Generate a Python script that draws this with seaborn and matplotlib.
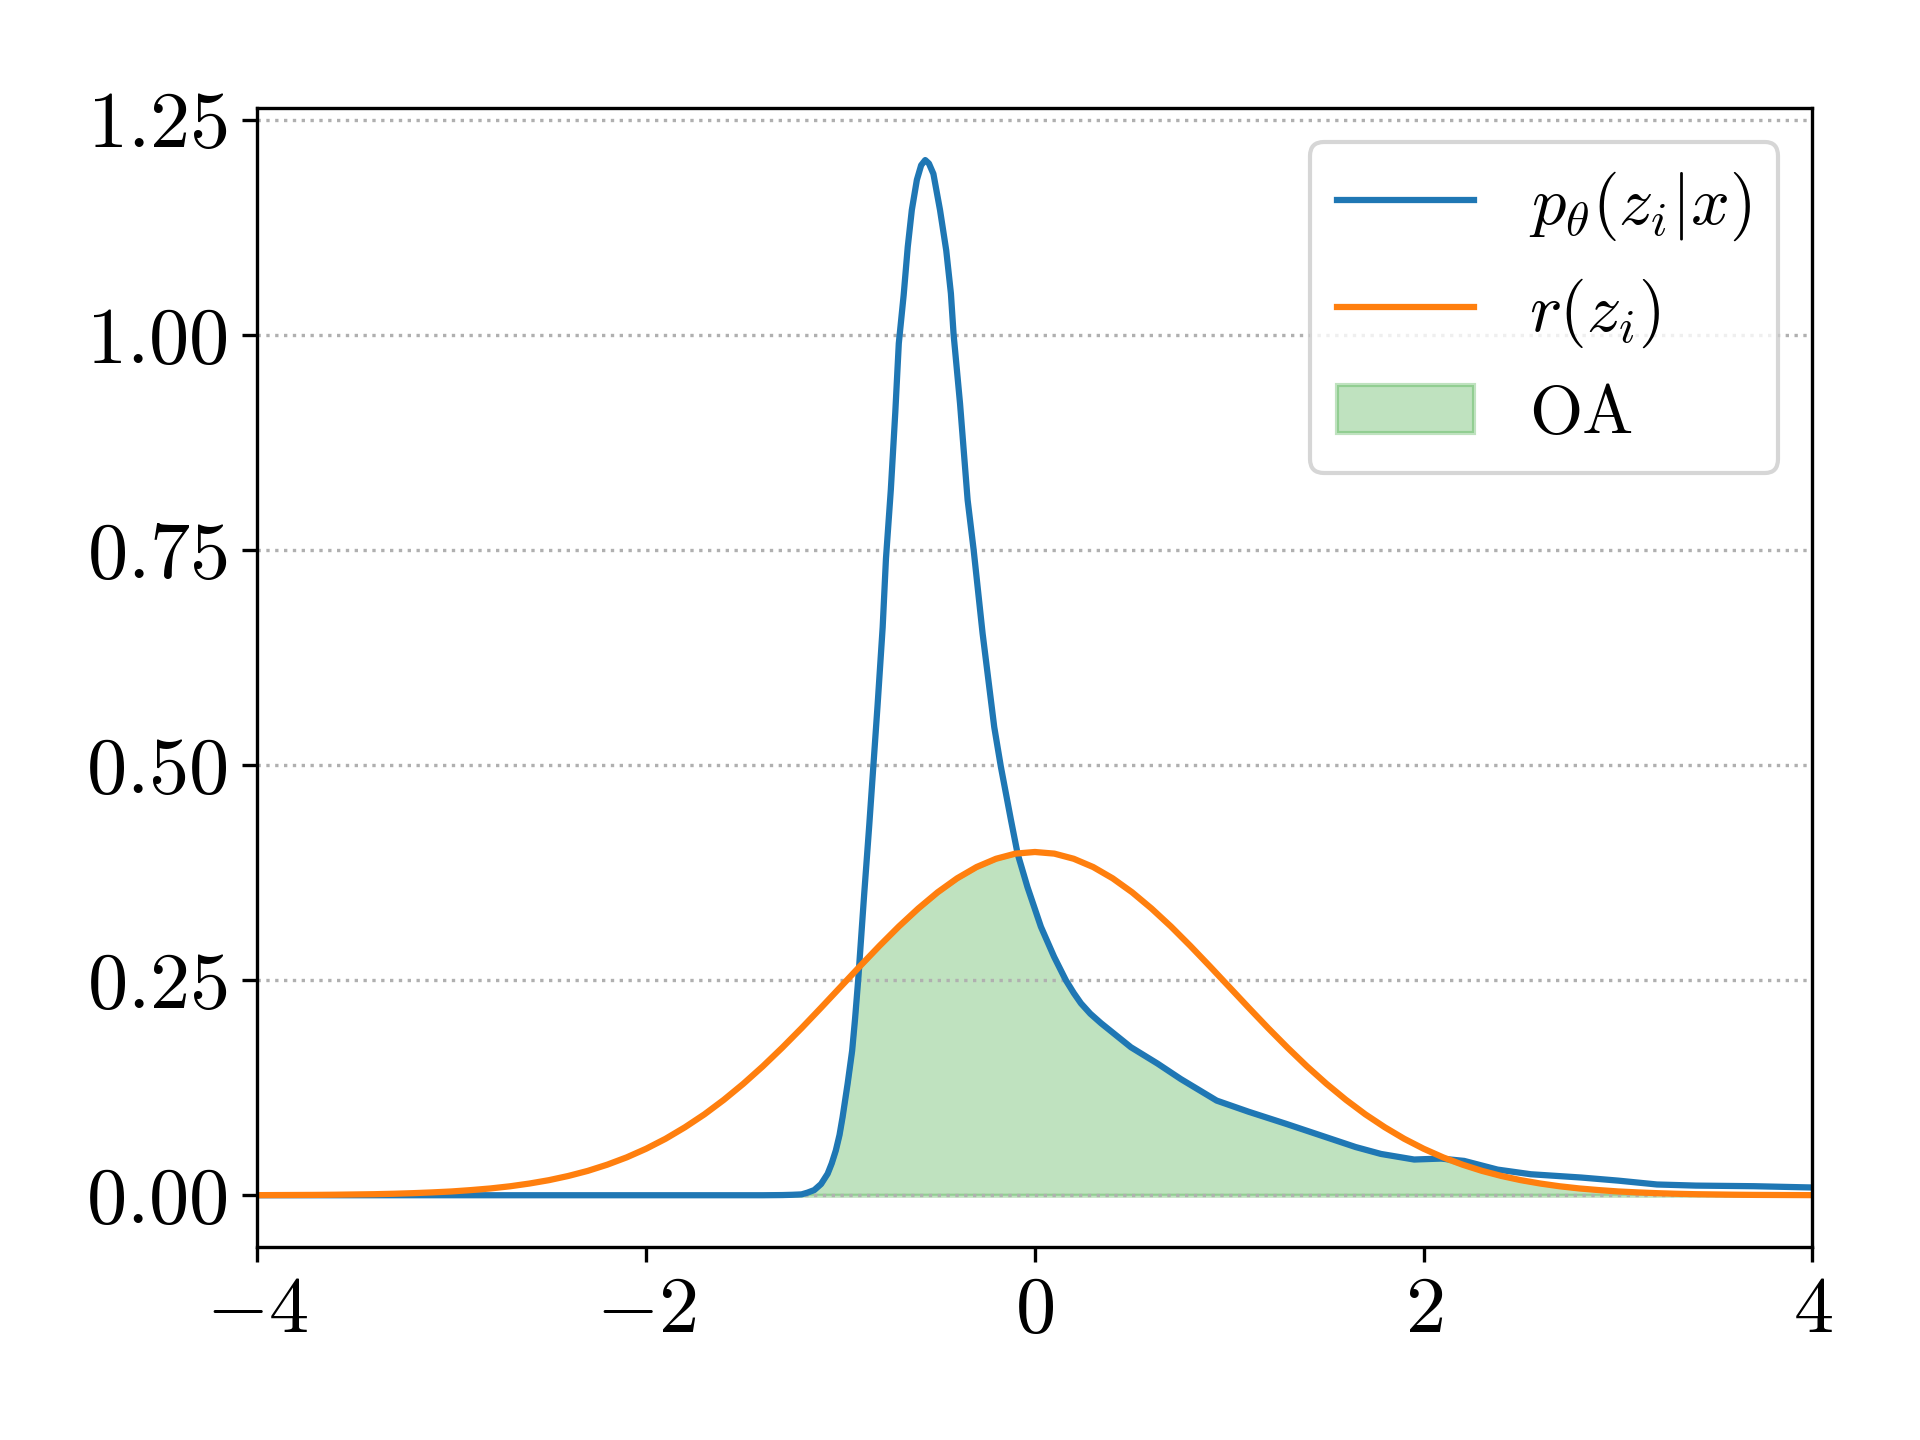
import numpy as np
import pandas as pd
import matplotlib
matplotlib.use("Agg")
import matplotlib.pyplot as plt
import seaborn as sns

# ---- data ----
p_x = [-4.0, -3.0, -2.0, -1.4, -1.3, -1.25, -1.2, -1.17, -1.135, -1.1, -1.066,
       -1.045, -1.024, -1.005, -0.989, -0.963, -0.940, -0.925, -0.909, -0.878,
       -0.852, -0.809, -0.783, -0.766, -0.741, -0.718, -0.700, -0.675, -0.654,
       -0.633, -0.607, -0.585, -0.564, -0.545, -0.522, -0.488, -0.456, -0.432,
       -0.418, -0.385, -0.346, -0.315, -0.269, -0.209, -0.175, -0.123, -0.089,
       -0.038, 0.031, 0.099, 0.159, 0.200, 0.237, 0.285, 0.340, 0.494, 0.631,
       0.751, 0.935, 1.1, 1.292, 1.650, 1.780, 1.951, 2.089, 2.208, 2.380,
       2.551, 2.809, 3.0, 3.2, 3.4, 3.7, 4.0]
p_y = [0.0, 0.0, 0.0, 0.0, 0.0002, 0.0005, 0.001, 0.003, 0.006, 0.013, 0.025,
       0.037, 0.052, 0.070, 0.091, 0.130, 0.168, 0.205, 0.250, 0.350,
       0.430, 0.570, 0.660, 0.740, 0.820, 0.910, 0.990, 1.046, 1.102,
       1.145, 1.180, 1.197, 1.203, 1.199, 1.187, 1.145, 1.098, 1.048,
       1.000, 0.920, 0.808, 0.750, 0.653, 0.544, 0.498, 0.436, 0.397,
       0.358, 0.312, 0.277, 0.250, 0.235, 0.223, 0.211, 0.200, 0.172, 0.153,
       0.135, 0.110, 0.097, 0.083, 0.056, 0.048, 0.0415, 0.0426, 0.0399, 0.0298,
       0.0244, 0.0206, 0.017, 0.0125, 0.0112, 0.0105, 0.009]

r_x = [-4.0, -3.9, -3.8, -3.7, -3.6, -3.5, -3.4, -3.3, -3.2, -3.1,
       -3.0, -2.9, -2.8, -2.7, -2.6, -2.5, -2.4, -2.3, -2.2, -2.1,
       -2.0, -1.9, -1.8, -1.7, -1.6, -1.5, -1.4, -1.3, -1.2, -1.1,
       -1.0, -0.9, -0.8, -0.7, -0.6, -0.5, -0.4, -0.3, -0.2, -0.1,
       0.0, 0.1, 0.2, 0.3, 0.4, 0.5, 0.6, 0.7, 0.8, 0.9,
       1.0, 1.1, 1.2, 1.3, 1.4, 1.5, 1.6, 1.7, 1.8, 1.9,
       2.0, 2.1, 2.2, 2.3, 2.4, 2.5, 2.6, 2.7, 2.8, 2.9,
       3.0, 3.1, 3.2, 3.3, 3.4, 3.5, 3.6, 3.7, 3.8, 3.9, 4.0]
r_y = [0.0001, 0.0002, 0.0003, 0.0004, 0.0006, 0.0009, 0.0012, 0.0017, 0.0024, 0.0033,
       0.0044, 0.0060, 0.0079, 0.0104, 0.0136, 0.0175, 0.0224, 0.0283, 0.0355, 0.0440,
       0.0540, 0.0656, 0.0790, 0.0940, 0.1109, 0.1295, 0.1497, 0.1714, 0.1942, 0.2179,
       0.2420, 0.2661, 0.2897, 0.3123, 0.3332, 0.3521, 0.3683, 0.3814, 0.3910, 0.3970,
       0.3989, 0.3970, 0.3910, 0.3814, 0.3683, 0.3521, 0.3332, 0.3123, 0.2897, 0.2661,
       0.2420, 0.2179, 0.1942, 0.1714, 0.1497, 0.1295, 0.1109, 0.0940, 0.0790, 0.0656,
       0.0540, 0.0440, 0.0355, 0.0283, 0.0224, 0.0175, 0.0136, 0.0104, 0.0079, 0.0060,
       0.0044, 0.0033, 0.0024, 0.0017, 0.0012, 0.0009, 0.0006, 0.0004, 0.0003, 0.0002, 0.0001]

labels = [r"$p_\theta(z_i|x)$", r"$r(z_i)$", "OA"]
x_ticks = [-4, -2, 0, 2, 4]
y_ticks = [0.0, 0.25, 0.5, 0.75, 1.0, 1.25]

# ---- style ----
plt.rcParams.update({
    "font.family": "serif",
    "font.serif": ["cmr10", "DejaVu Serif"],
    "mathtext.fontset": "cm",
    "axes.formatter.use_mathtext": True,
    "axes.unicode_minus": True,
})

fig = plt.figure(figsize=(6.4, 4.8), dpi=300)
ax = fig.add_axes([0.134, 0.134, 0.944 - 0.134, 0.925 - 0.134])

df_p = pd.DataFrame({"x": p_x, "y": p_y})
df_r = pd.DataFrame({"x": r_x, "y": r_y})

sns.lineplot(data=df_p, x="x", y="y", ax=ax, color="C0", linewidth=1.5, label=labels[0])
sns.lineplot(data=df_r, x="x", y="y", ax=ax, color="C1", linewidth=1.5, label=labels[1])

grid = np.union1d(p_x, r_x)
overlap = np.minimum(np.interp(grid, p_x, p_y), np.interp(grid, r_x, r_y))
ax.fill_between(grid, overlap, color="C2", alpha=0.3, label=labels[2])

ax.set_xlim(-4, 4)
ax.set_ylim(-0.0602, 1.2635)
ax.set_xticks(x_ticks)
ax.set_yticks(y_ticks)
ax.yaxis.set_major_formatter(matplotlib.ticker.FormatStrFormatter(r"$%.2f$"))
ax.xaxis.set_major_formatter(matplotlib.ticker.FuncFormatter(
    lambda v, p: r"$%d$" % int(round(v))))
ax.set_xlabel("")
ax.set_ylabel("")
ax.tick_params(labelsize=19.3)
ax.grid(axis="y", linestyle=":")
ax.legend(loc="upper right", fontsize=16.4)

fig.savefig("out.png", dpi=300)
